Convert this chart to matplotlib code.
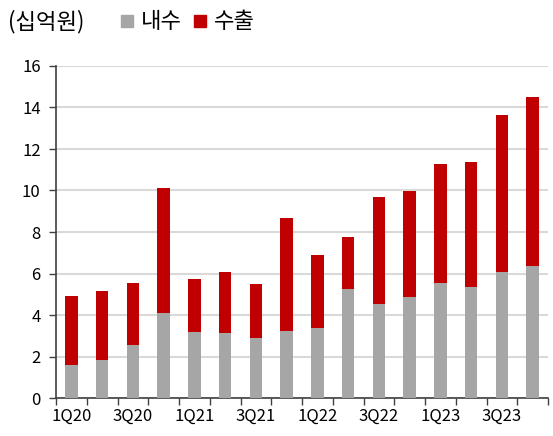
import matplotlib.pyplot as plt
from matplotlib.lines import Line2D

plt.rcParams['font.family'] = ['Noto Sans CJK KR', 'DejaVu Sans']

# quarterly sales (십억원)
quarters = ["1Q20", "2Q20", "3Q20", "4Q20", "1Q21", "2Q21", "3Q21", "4Q21",
            "1Q22", "2Q22", "3Q22", "4Q22", "1Q23", "2Q23", "3Q23", "4Q23"]
domestic = [1.6, 1.83, 2.55, 4.1, 3.18, 3.13, 2.89, 3.23,
            3.37, 5.25, 4.53, 4.87, 5.54, 5.35, 6.07, 6.36]
export_total = [4.92, 5.16, 5.54, 10.12, 5.73, 6.07, 5.49, 8.67,
                6.89, 7.76, 9.69, 9.98, 11.28, 11.37, 13.64, 14.5]
export = [t - d for t, d in zip(export_total, domestic)]

gray = '#a6a6a6'
red = '#c00000'

fig = plt.figure(figsize=(5.53, 4.36), dpi=100)
ax = fig.add_axes([56 / 553, 38 / 436, 492 / 553, 332 / 436])

x = list(range(len(quarters)))
ax.bar(x, domestic, width=0.4, color=gray, zorder=3)
ax.bar(x, export, bottom=domestic, width=0.4, color=red, zorder=3)

ax.set_xlim(-0.5, len(quarters) - 0.5)
ax.set_ylim(0, 16)
ax.set_yticks(range(0, 17, 2))
ax.yaxis.grid(True, color='#d9d9d9', linewidth=1.5, zorder=0)

# category labels every other quarter, ticks between categories
ax.set_xticks(x[::2])
ax.set_xticklabels(quarters[::2], fontsize=12)
ax.tick_params(axis='x', length=0, pad=7)
ax.set_xticks([i - 0.5 for i in range(len(quarters) + 1)], minor=True)
ax.tick_params(axis='x', which='minor', length=5, width=1, color='#404040')
ax.tick_params(axis='y', length=5, width=1, color='#404040', labelsize=12, pad=6)

for s in ['top', 'right']:
    ax.spines[s].set_visible(False)
ax.spines['left'].set_color('#404040')
ax.spines['bottom'].set_color('#404040')
ax.spines['left'].set_linewidth(1.2)
ax.spines['bottom'].set_linewidth(1.2)

fig.text(8 / 553, 1 - 22 / 436, "(십억원)", fontsize=16, va='center', ha='left')
handles = [Line2D([], [], marker='s', linestyle='', color=gray, markersize=9),
           Line2D([], [], marker='s', linestyle='', color=red, markersize=9)]
fig.legend(handles, ["내수", "수출"], loc='center left',
           bbox_to_anchor=(116 / 553, 1 - 22 / 436), ncol=2, frameon=False,
           fontsize=16, handletextpad=0.1, columnspacing=0.35, handlelength=1.0,
           borderaxespad=0, borderpad=0)

fig.savefig('out.png', dpi=100)
